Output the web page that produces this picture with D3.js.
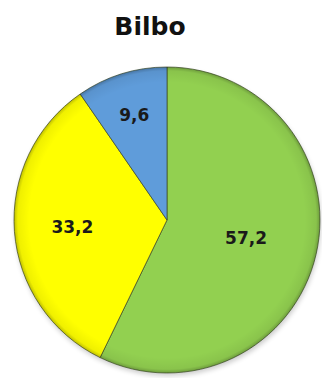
<!DOCTYPE html>
<html><head><meta charset="utf-8">
<script src="https://cdn.jsdelivr.net/npm/d3@7"></script>
<style>body{margin:0;background:#fff}svg{display:block}</style>
</head><body>
<script>
const title = "Bilbo";
const categories = ["A", "B", "C"];
const values = [57.2, 33.2, 9.6];
const labels = ["57,2", "33,2", "9,6"];
const colors = ["#92D050", "#FFFF00", "#5F9CDA"];

const W = 322, H = 378, cx = 167, cy = 220, r = 153;
const svg = d3.select("body").append("svg").attr("width", W).attr("height", H);
const defs = svg.append("defs");
const rg = defs.append("radialGradient").attr("id", "bevel")
  .attr("gradientUnits", "userSpaceOnUse").attr("cx", 0).attr("cy", 0).attr("r", r);
rg.append("stop").attr("offset", "0.9").attr("stop-color", "#000").attr("stop-opacity", 0);
rg.append("stop").attr("offset", "0.975").attr("stop-color", "#000").attr("stop-opacity", 0.06);
rg.append("stop").attr("offset", "1").attr("stop-color", "#000").attr("stop-opacity", 0.25);
const f = defs.append("filter").attr("id", "sh").attr("x", "-10%").attr("y", "-10%").attr("width", "120%").attr("height", "120%");
f.append("feGaussianBlur").attr("stdDeviation", 2.5);

svg.append("text").attr("x", 150).attr("y", 35).attr("text-anchor", "middle")
  .attr("font-family", "DejaVu Sans").attr("font-weight", "bold").attr("font-size", 25)
  .attr("fill", "#111").text(title);

const g = svg.append("g").attr("transform", `translate(${cx},${cy})`);
g.append("circle").attr("cx", 1).attr("cy", 3).attr("r", r).attr("fill", "#000").attr("opacity", 0.2).attr("filter", "url(#sh)");

const pie = d3.pie().sort(null).value(d => d)(values);
const arc = d3.arc().innerRadius(0).outerRadius(r);
g.selectAll("path.s").data(pie).join("path").attr("class", "s")
  .attr("d", arc).attr("fill", (d, i) => colors[i])
  .attr("stroke", "#3d4a2a").attr("stroke-opacity", 0.7).attr("stroke-width", 1);
g.append("circle").attr("r", r).attr("fill", "url(#bevel)");

const labelArcs = [0.53, 0.62, 0.72];
g.selectAll("text.l").data(pie).join("text").attr("class", "l")
  .attr("transform", (d, i) => {
    const a = d3.arc().innerRadius(r * labelArcs[i]).outerRadius(r * labelArcs[i]);
    const [x, y] = a.centroid(d); return `translate(${x},${y})`;
  })
  .attr("text-anchor", "middle").attr("dy", "0.36em")
  .attr("font-family", "DejaVu Sans").attr("font-weight", "bold").attr("font-size", 17)
  .attr("fill", "#1a1a1a").text((d, i) => labels[i]);
</script>
</body></html>
